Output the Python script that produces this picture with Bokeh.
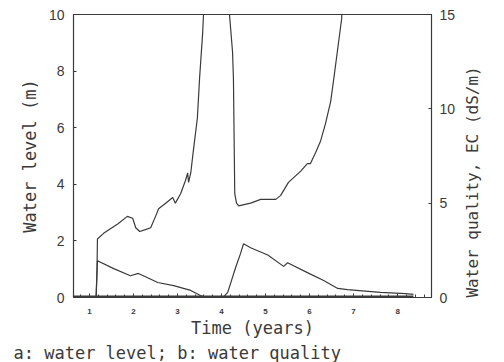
import math
from bokeh.plotting import figure
from bokeh.models import Range1d, LinearAxis, FixedTicker, Title
from bokeh.embed import file_html
from bokeh.resources import INLINE

# Water quality, EC (dS/m) - right axis (goes off-scale near drying)
ec_t = [0.64, 1.15, 1.17, 1.18, 1.32, 1.64, 1.86, 1.98, 2.05, 2.14, 2.27, 2.39, 2.50, 2.57,
        2.73, 2.89, 2.95, 3.07, 3.18, 3.23, 3.25, 3.30, 3.36, 3.45, 3.50, 3.57, 3.59, 3.62,
        4.16, 4.18, 4.25, 4.27, 4.30, 4.34, 4.39, 4.66, 4.89, 5.11, 5.23, 5.34, 5.52, 5.80,
        5.95, 6.02, 6.14, 6.25, 6.36, 6.48, 6.55, 6.64, 6.73, 6.76]
ec_v = [0.0, 0.0, 1.5, 3.1, 3.4, 3.9, 4.3, 4.2, 3.7, 3.5, 3.6, 3.7, 4.3, 4.7,
        5.0, 5.3, 5.0, 5.5, 6.2, 6.6, 6.1, 6.6, 7.8, 9.5, 11.6, 14.0, 15.0, 20.0,
        20.0, 15.0, 13.0, 11.6, 5.5, 5.0, 4.86, 5.0, 5.2, 5.2, 5.2, 5.4, 6.1, 6.7,
        7.1, 7.1, 7.7, 8.3, 9.2, 10.4, 11.6, 13.2, 14.8, 20.0]

# Water level (m) - left axis
wl_t = [0.64, 1.15, 1.18, 1.55, 1.93, 2.11, 2.32, 2.55, 2.91, 3.30, 3.52, 3.59, 4.05,
        4.14, 4.32, 4.43, 4.50, 4.66, 5.05, 5.41, 5.50, 5.95, 6.32, 6.64, 6.86, 7.61, 8.18, 8.36]
wl_v = [0.0, 0.0, 1.30, 1.02, 0.77, 0.85, 0.70, 0.53, 0.42, 0.25, 0.07, 0.03, 0.03,
        0.18, 1.06, 1.55, 1.90, 1.76, 1.50, 1.10, 1.23, 0.88, 0.60, 0.32, 0.28, 0.18, 0.14, 0.11]

# Baseline along the bottom
base_t = [0.64, 8.36]
base_v = [0.03, 0.03]

x_ticks = [1, 2, 3, 4, 5, 6, 7, 8]
left_ticks = [0, 2, 4, 6, 8, 10]
right_ticks = [0, 5, 10, 15]
caption = "a: water level; b: water quality"
right_title = "Water quality, EC (dS/m)"

mono = "DejaVu Sans Mono"
sans = "Liberation Sans"
ink = "#3a3a3a"

p = figure(width=504, height=362, output_backend="svg", toolbar_location=None,
           x_range=Range1d(0.636, 8.77), y_range=Range1d(0, 10),
           min_border_left=73, min_border_right=73, min_border_top=14, min_border_bottom=65)
p.extra_y_ranges = {"ec": Range1d(0, 15)}
p.grid.visible = False
p.outline_line_color = ink
p.outline_line_width = 1.2
p.background_fill_color = "white"
p.border_fill_color = "white"

p.line(base_t, base_v, line_color=ink, line_width=2.5)
p.line(wl_t, wl_v, line_color=ink, line_width=1.2)
p.line(ec_t, ec_v, y_range_name="ec", line_color=ink, line_width=1.2)

xa = p.xaxis[0]
xa.ticker = FixedTicker(ticks=x_ticks, minor_ticks=[i / 5 for i in range(3, 44)])
xa.axis_label = "Time (years)"
xa.axis_label_text_font = mono
xa.axis_label_text_font_size = "17px"
xa.axis_label_text_font_style = "normal"
xa.axis_label_text_line_height = 1.0
xa.axis_label_text_color = ink
xa.axis_label_standoff = 1
xa.major_label_text_font = sans
xa.major_label_text_font_size = "8px"
xa.major_label_text_font_style = "bold"
xa.major_label_text_color = ink
xa.major_label_standoff = 11
xa.major_tick_in = 4
xa.major_tick_out = 0
xa.minor_tick_in = 3
xa.minor_tick_out = 0
xa.axis_line_color = ink
xa.major_tick_line_color = ink
xa.minor_tick_line_color = ink

ya = p.yaxis[0]
ya.ticker = FixedTicker(ticks=left_ticks)
ya.axis_label = "Water level (m)"
ya.axis_label_text_font = mono
ya.axis_label_text_font_size = "17px"
ya.axis_label_text_font_style = "normal"
ya.axis_label_text_color = ink
ya.axis_label_standoff = 6
ya.major_label_text_font = sans
ya.major_label_text_font_size = "14px"
ya.major_label_text_color = ink
ya.major_label_standoff = 9
ya.major_tick_in = 3
ya.major_tick_out = 0
ya.minor_tick_line_color = None
ya.axis_line_color = ink
ya.major_tick_line_color = ink

ra = LinearAxis(y_range_name="ec", ticker=FixedTicker(ticks=right_ticks))
ra.axis_label = right_title
ra.axis_label_text_font = mono
ra.axis_label_text_font_size = "16px"
ra.axis_label_text_font_style = "normal"
ra.axis_label_text_color = ink
ra.axis_label_standoff = 14
try:
    ra.axis_label_align = "start"
    ra.axis_label_orientation = math.pi / 2
except Exception:
    ra.axis_label_orientation = "vertical"
ra.major_label_text_font = sans
ra.major_label_text_font_size = "14px"
ra.major_label_text_color = ink
ra.major_label_standoff = 8
ra.major_tick_in = 3
ra.major_tick_out = 0
ra.minor_tick_line_color = None
ra.axis_line_color = ink
ra.major_tick_line_color = ink
p.add_layout(ra, "right")

cap = Title(text=caption, align="left", offset=-60,
            text_font=mono, text_font_size="17px", text_font_style="normal",
            text_line_height=1.0, text_color=ink, standoff=0)
p.add_layout(cap, "below")

open("out.html", "w").write(file_html(p, INLINE))
